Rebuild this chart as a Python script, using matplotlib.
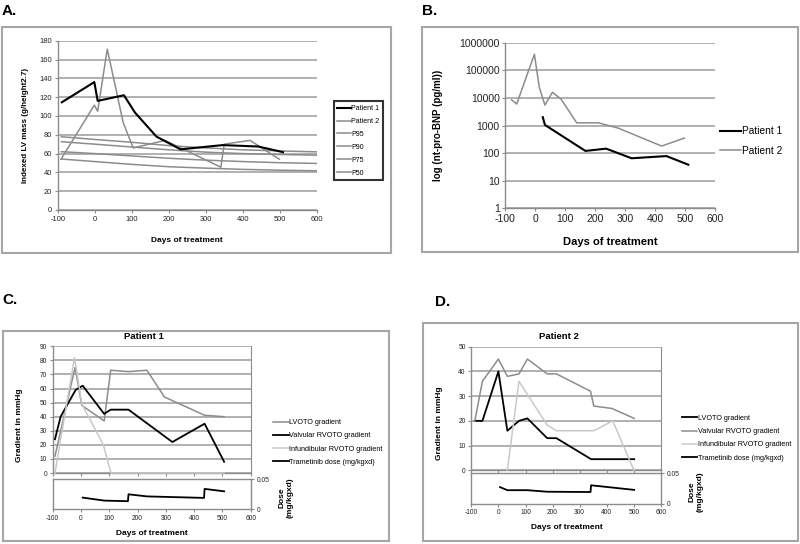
import matplotlib
matplotlib.use('Agg')
import matplotlib.pyplot as plt
from matplotlib.patches import Rectangle
from matplotlib.ticker import FuncFormatter, NullLocator

plt.rcParams['font.family'] = ['Liberation Sans', 'DejaVu Sans']
plt.rcParams['axes.unicode_minus'] = False

# A. indexed LV mass
p1_days = [-89, -1, 8, 79, 109, 167, 232, 346, 442, 509]
p1_lvm = [114.5, 136, 116, 122, 103.5, 78, 64.5, 69, 67.5, 61.5]
p2_days = [-91, -1, 8, 34, 77, 104, 190, 341, 350, 420, 499]
p2_lvm = [54, 111.5, 105, 171, 93, 66, 74, 45.5, 70, 74, 54]
pct_days = [-90, 0, 100, 200, 300, 400, 500, 600]
pct_names = ['P95', 'P90', 'P75', 'P50']
pct_vals = [
    [77.9, 75, 72, 68.5, 66, 64, 62.8, 61.8],
    [72.6, 70, 67, 64, 61.5, 60, 59, 58.3],
    [62, 60, 57.5, 55, 53, 51.5, 50.3, 49.5],
    [54.2, 51.5, 48.5, 46, 44.5, 43.2, 42.3, 41.7],
]

# B. nt-pro-BNP
b1_days = [25, 32, 167, 236, 321, 437, 510]
b1_vals = [2000, 1050, 120, 145, 65, 78, 38]
b2_days = [-79, -62, -3, 13, 32, 57, 86, 138, 210, 277, 421, 497]
b2_vals = [8500, 6000, 380000, 25000, 5500, 16000, 9000, 1250, 1250, 800, 180, 350]

# C. patient 1 gradients + dose
c_lvoto_days = [-92, -21, 3, 82, 105, 168, 233, 295, 437, 506]
c_lvoto = [12, 75, 48, 37, 73, 72, 73, 54, 41, 40]
c_valv_days = [-92, -72, -19, 6, 82, 105, 168, 323, 437, 506]
c_valv = [24, 40, 59, 62, 42, 45, 45, 22, 35, 8]
c_inf_days = [-92, -23, 3, 79, 106, 506]
c_inf = [0, 82, 49, 20, 0, 0]
c_dose_days = [6, 82, 166, 168, 233, 435, 437, 506]
c_dose = [0.0195, 0.0145, 0.0135, 0.025, 0.0215, 0.019, 0.034, 0.030]

# D. patient 2 gradients + dose
d_lvoto_days = [-87, -59, 0, 33, 76, 107, 180, 214, 342, 501]
d_lvoto = [20, 20, 40, 16, 20, 21, 13, 13, 4.5, 4.5]
d_valv_days = [-87, -59, 0, 33, 76, 107, 180, 214, 340, 352, 419, 501]
d_valv = [20, 36, 45, 38, 39, 45, 39, 39, 32, 26, 25, 21]
d_inf_days = [33, 76, 180, 214, 352, 422, 500]
d_inf = [0, 36, 18.3, 16, 16, 20, 0]
d_dose_days = [6, 33, 107, 180, 340, 342, 501]
d_dose = [0.027, 0.022, 0.022, 0.0195, 0.019, 0.030, 0.0225]

grad_labels = ['LVOTO gradient', 'Valvular RVOTO gradient',
               'Infundibular RVOTO gradient', 'Trametinib dose (mg/kgxd)']

W, H = 800, 544
fig = plt.figure(figsize=(8, 5.44), dpi=100)

GRID = '#a3a3a3'
AXC = '#8c8c8c'
MID = '#8c8c8c'
LIGHT = '#c9c9c9'


def box(l, t, r, b):
    return [l / W, 1 - b / H, (r - l) / W, (b - t) / H]


def style(ax, fs):
    for s in ['top', 'right']:
        ax.spines[s].set_visible(False)
    for s in ['left', 'bottom']:
        ax.spines[s].set_color(AXC)
        ax.spines[s].set_linewidth(1.0)
    ax.yaxis.grid(True, color=GRID, lw=1.2)
    ax.set_axisbelow(True)
    ax.tick_params(labelsize=fs, length=2.5, width=0.8, color=AXC, pad=1.5, labelcolor='#222222')


# outer frames
for l, t, r, b in [(2, 27, 391, 253), (421.7, 27.3, 798, 252),
                   (2.7, 331.3, 389.3, 541.3), (422.7, 322.7, 798, 541)]:
    fig.patches.append(Rectangle((l / W, 1 - b / H), (r - l) / W, (b - t) / H,
                                 transform=fig.transFigure, fill=False, ec='#a6a6a6', lw=1.5))

for txt, x, y in [('A.', 2, 11), ('B.', 421.7, 11), ('C.', 2.7, 299.5), ('D.', 435, 302)]:
    fig.text(x / W, 1 - y / H, txt, fontsize=11, fontweight='bold', va='center', ha='left')

# ---- A ----
axA = fig.add_axes(box(57.7, 40.7, 316.7, 210))
style(axA, 5.4)
pl = []
for name, vals in zip(pct_names, pct_vals):
    pl.append(axA.plot(pct_days, vals, color=MID, lw=1.1, label=name)[0])
l2, = axA.plot(p2_days, p2_lvm, color=MID, lw=1.1, label='Patient 2')
l1, = axA.plot(p1_days, p1_lvm, color='black', lw=1.5, label='Patient 1')
axA.set_xlim(-100, 600)
axA.set_ylim(0, 180)
axA.set_xticks(range(-100, 601, 100))
axA.set_yticks(range(0, 181, 20))
axA.set_ylabel('Indexed LV mass (g/height2.7)', fontsize=5.8, fontweight='bold')
axA.yaxis.set_label_coords(-0.11, 0.5)
axA.set_xlabel('Days of treatment', fontsize=6, fontweight='bold')
axA.xaxis.set_label_coords(0.5, -0.158)
legA = axA.legend([l1, l2] + pl, ['Patient 1', 'Patient 2'] + pct_names,
                  loc='center', bbox_to_anchor=(358.5 / W, 1 - 140.8 / H),
                  bbox_transform=fig.transFigure, fontsize=5, handlelength=1.9,
                  handletextpad=0.1, labelspacing=0.85, borderpad=0.55, fancybox=False)
legA.get_frame().set_edgecolor('black')
legA.get_frame().set_linewidth(1.5)

# ---- B ----
axB = fig.add_axes(box(505.3, 42.7, 715.3, 208.3))
style(axB, 7.5)
axB.set_yscale('log')
b1, = axB.plot(b1_days, b1_vals, color='black', lw=1.5)
b2, = axB.plot(b2_days, b2_vals, color=MID, lw=1.1)
axB.set_xlim(-100, 600)
axB.set_ylim(1, 1e6)
axB.set_xticks(range(-100, 601, 100))
axB.set_yticks([1, 10, 100, 1000, 10000, 100000, 1000000])
axB.yaxis.set_major_formatter(FuncFormatter(lambda v, p: f'{v:.0f}'))
axB.yaxis.set_minor_locator(NullLocator())
axB.set_ylabel('log (nt-pro-BNP (pg/ml))', fontsize=7, fontweight='bold')
axB.yaxis.set_label_coords(-0.298, 0.5)
axB.set_xlabel('Days of treatment', fontsize=8, fontweight='bold')
axB.xaxis.set_label_coords(0.5, -0.175)
axB.legend([b1, b2], ['Patient 1', 'Patient 2'], loc='center left',
           bbox_to_anchor=(720 / W, 1 - 141 / H), bbox_transform=fig.transFigure,
           frameon=False, fontsize=7.3, handlelength=2.1, handletextpad=0.1,
           labelspacing=0.95, borderpad=0, borderaxespad=0)


# ---- C / D ----
def gradient_panel(main_box, dose_box, title, tpos, ylim, lines, dose_days, dose_vals,
                   ylab_pos, xlab_pos, dlab_pos, leg_center):
    ax = fig.add_axes(box(*main_box))
    style(ax, 4.8)
    ax.spines['right'].set_visible(True)
    ax.spines['right'].set_color(AXC)
    handles = []
    for days, vals, col, lw in lines:
        handles.append(ax.plot(days, vals, color=col, lw=lw, clip_on=False, zorder=3)[0])
    ax.set_xlim(-100, 600)
    ax.set_ylim(0, ylim)
    ax.set_xticks(range(-100, 601, 100))
    ax.set_yticks(range(0, ylim + 1, 10))
    ax.tick_params(labelbottom=False)
    ax.set_ylabel('Gradient in mmHg', fontsize=6, fontweight='bold')
    ax.yaxis.set_label_coords(*ylab_pos)
    ax.text(tpos[0], tpos[1], title, transform=ax.transAxes, fontsize=6.8,
            fontweight='bold', ha='center', va='center')

    axd = fig.add_axes(box(*dose_box))
    for s in axd.spines.values():
        s.set_color(AXC)
        s.set_linewidth(1.0)
    hd, = axd.plot(dose_days, dose_vals, color='black', lw=1.3)
    axd.set_xlim(-100, 600)
    axd.set_ylim(0, 0.05)
    axd.set_xticks(range(-100, 601, 100))
    axd.yaxis.tick_right()
    axd.set_yticks([0, 0.05])
    axd.set_yticklabels(['0', '0.05'])
    axd.tick_params(labelsize=4.8, length=2.5, width=0.8, color=AXC, pad=1.5, labelcolor='#222222')
    axd.yaxis.set_label_position('right')
    axd.set_ylabel('Dose\n(mg/kgxd)', fontsize=6, fontweight='bold', rotation=90,
                   multialignment='center')
    axd.yaxis.set_label_coords(*dlab_pos)
    axd.set_xlabel('Days of treatment', fontsize=6, fontweight='bold')
    axd.xaxis.set_label_coords(*xlab_pos)

    ax.legend(handles + [hd], grad_labels, loc='center',
              bbox_to_anchor=(leg_center[0] / W, 1 - leg_center[1] / H),
              bbox_transform=fig.transFigure, frameon=False, fontsize=5.2,
              handlelength=2.1, handletextpad=0.1, labelspacing=0.85,
              borderpad=0, borderaxespad=0)


gradient_panel((52.7, 346.3, 250.7, 473), (52.7, 479.3, 250.7, 509.3), 'Patient 1',
               (0.461, 1.079), 90,
               [(c_lvoto_days, c_lvoto, MID, 1.1),
                (c_valv_days, c_valv, 'black', 1.3),
                (c_inf_days, c_inf, LIGHT, 1.1)],
               c_dose_days, c_dose,
               (-0.148, 0.376), (0.5, -0.7), (1.14, 0.4), (328, 442.5))

gradient_panel((471.3, 346.7, 661, 470.3), (471.3, 473, 661, 503.7), 'Patient 2',
               (0.463, 1.084), 50,
               [(d_lvoto_days, d_lvoto, 'black', 1.3),
                (d_valv_days, d_valv, MID, 1.1),
                (d_inf_days, d_inf, LIGHT, 1.1)],
               d_dose_days, d_dose,
               (-0.151, 0.385), (0.503, -0.65), (1.145, 0.4), (736.7, 438.2))

fig.savefig('out.png', dpi=100)
